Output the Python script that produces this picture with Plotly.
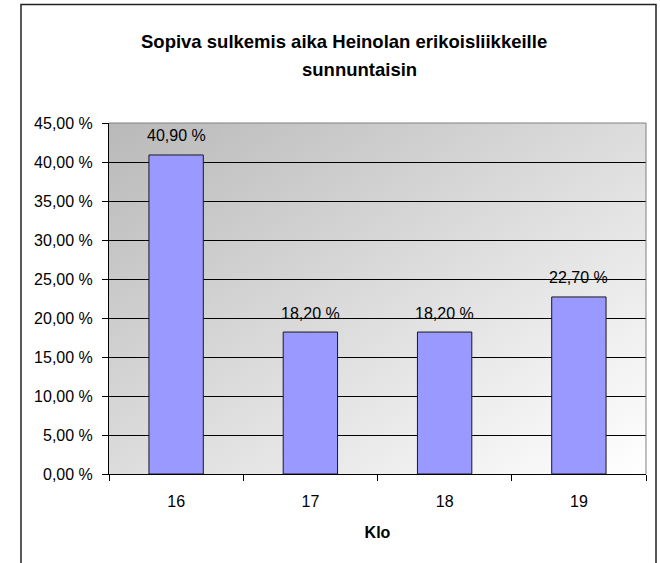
import base64
import plotly.graph_objects as go

# data
hours = ["16", "17", "18", "19"]
shares = [40.9, 18.2, 18.2, 22.7]
ytick_vals = [0, 5, 10, 15, 20, 25, 30, 35, 40, 45]
title_lines = ["Sopiva sulkemis aika Heinolan erikoisliikkeille", "sunnuntaisin"]

def fi_pct(v):
    # finnish style: comma decimal, space before %
    return ("%.2f %%" % v).replace(".", ",")

font_family = "Arial, Liberation Sans, sans-serif"

# plot area in pixels
W, H = 660, 563
L, R, T, B = 109, 646, 123, 474
pw, ph = R - L, B - T

def px(x):
    return (x - L) / pw

def py(y):
    return (B - y) / ph

# plot area background gradient (grey top-left -> white bottom-right)
svg = ('<svg xmlns="http://www.w3.org/2000/svg" width="100" height="100">'
       '<defs><linearGradient id="g" x1="0" y1="0" x2="1" y2="1">'
       '<stop offset="0" stop-color="#b9b9b9"/>'
       '<stop offset="1" stop-color="#ffffff"/>'
       '</linearGradient></defs>'
       '<rect width="100" height="100" fill="url(#g)"/></svg>')
bg_src = "data:image/svg+xml;base64," + base64.b64encode(svg.encode()).decode()

fig = go.Figure()
fig.add_trace(go.Bar(
    x=hours, y=shares,
    width=0.405,
    marker=dict(color="#9999ff", line=dict(color="#1a1a1a", width=1)),
    hoverinfo="x+y",
))

annotations = []
# value labels above the bars (x as category index)
for i, v in enumerate(shares):
    annotations.append(dict(x=i, y=v, xref="x", yref="y", text=fi_pct(v),
                            showarrow=False, yanchor="middle", yshift=19,
                            font=dict(size=16, color="#000000")))
# title (two lines, as in the original)
annotations.append(dict(x=px(343.5), y=py(41), xref="paper", yref="paper",
                        text="<b>%s</b>" % title_lines[0], showarrow=False,
                        xanchor="center", yanchor="middle",
                        font=dict(size=18.5, color="#000000")))
annotations.append(dict(x=px(359), y=py(69), xref="paper", yref="paper",
                        text="<b>%s</b>" % title_lines[1], showarrow=False,
                        xanchor="center", yanchor="middle",
                        font=dict(size=18.5, color="#000000")))

fig.update_layout(
    width=W, height=H,
    margin=dict(l=L, r=W - R, t=T, b=H - B, autoexpand=False),
    paper_bgcolor="white",
    plot_bgcolor="rgba(0,0,0,0)",
    font=dict(family=font_family, size=16, color="#000000"),
    showlegend=False,
    annotations=annotations,
    images=[dict(source=bg_src, xref="paper", yref="paper", x=0, y=1,
                 sizex=1, sizey=1, sizing="stretch", layer="below",
                 xanchor="left", yanchor="top")],
    shapes=[
        # outer chart border
        dict(type="rect", xref="paper", yref="paper",
             x0=px(21), x1=px(656), y0=py(600), y1=py(4.5),
             line=dict(color="#222222", width=1.5), layer="above"),
        # plot area top/right border (grey)
        dict(type="line", xref="paper", yref="paper", x0=0, x1=1, y0=1, y1=1,
             line=dict(color="#808080", width=1), layer="above"),
        dict(type="line", xref="paper", yref="paper", x0=1, x1=1, y0=0, y1=1,
             line=dict(color="#808080", width=1), layer="above"),
    ],
)

fig.update_xaxes(
    type="category",
    range=[-0.5, len(hours) - 0.5],
    showgrid=False,
    showline=True, linecolor="#000000", linewidth=1,
    ticks="outside", ticklen=6, tickcolor="#000000", tickson="boundaries",
    tickangle=0,
    ticklabelstandoff=13,
    tickfont=dict(size=16),
    title=dict(text="<b>Klo</b>", font=dict(size=16), standoff=17),
)
fig.update_yaxes(
    range=[0, 45],
    tickvals=ytick_vals,
    ticktext=[fi_pct(v) for v in ytick_vals],
    showgrid=True, gridcolor="#000000", gridwidth=1,
    zeroline=False,
    showline=True, linecolor="#000000", linewidth=1,
    ticks="outside", ticklen=6, tickcolor="#000000",
    ticklabelstandoff=6,
    tickfont=dict(size=16),
)

# page body has a default 8px margin; drop it so the figure sits at 0,0
fig.write_html("out.html", config={"displayModeBar": False},
               post_script="document.body.style.margin='0';")
